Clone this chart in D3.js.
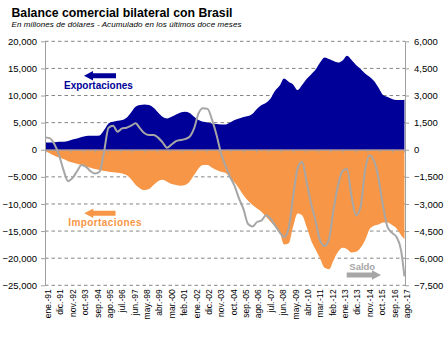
<!DOCTYPE html>
<html>
<head>
<meta charset="utf-8">
<script src="https://cdn.jsdelivr.net/npm/d3@7"></script>
<style>
  body { margin: 0; background: #fff; }
  text { font-family: "Liberation Sans", Arial, sans-serif; }
</style>
</head>
<body>
<div id="container"></div>
<script>
/**
 * CONSTANTES Y DATOS
 * valores mensuales acumulados 12 meses, tomados cada PASO meses desde ene.-91
 * */
const width = 445,
  height = 342,
  margin = { top: 41.3, right: 40, bottom: 56.7, left: 45 };

const PASO = 4,
  ULTIMO_MES = 319; // ago.-17

// etiquetas del eje de categorías (una cada 11 meses)
const etiquetasMes = [
  "ene.-91", "dic.-91", "nov.-92", "oct.-93", "sep.-94", "ago.-95", "jul.-96", "jun.-97",
  "may.-98", "abr.-99", "mar.-00", "feb.-01", "ene.-02", "dic.-02", "nov.-03", "oct.-04",
  "sep.-05", "ago.-06", "jul.-07", "jun.-08", "may.-09", "abr.-10", "mar.-11", "feb.-12",
  "ene.-13", "dic.-13", "nov.-14", "oct.-15", "sep.-16", "ago.-17"
];

const ticksIzq = [20000, 15000, 10000, 5000, 0, -5000, -10000, -15000, -20000, -25000];
const ticksDer = [6000, 4500, 3000, 1500, 0, -1500, -3000, -4500, -6000, -7500];

// millones de US$, eje izquierdo
const exportaciones = [
  1350, 1350, 1400, 1470, 1470, 1590, 1900, 2080, 2330, 2520, 2580, 2580, 2640, 3620, 4850, 5160, 5340, 5470, 5900, 6880,
  7930, 8230, 8360, 8230, 7740, 6880, 6080, 5770, 6080, 6510, 6880, 7000, 6760, 6080, 5470, 5160, 5040, 4850, 4730, 4670,
  4670, 5040, 5470, 5770, 6020, 6210, 6640, 7560, 8230, 8670, 9470, 10880, 11800, 13150, 12540, 12050, 11000, 11930, 13030, 13890,
  14800, 16100, 17030, 16720, 16350, 16100, 16480, 17340, 16540, 15610, 14880, 14070, 13460, 12660, 11430, 10080, 9710, 9340, 9160, 9160, 9220
];

const importaciones = [
  -250, -680, -1100, -1420, -1720, -2100, -2340, -2590, -2830, -3080, -3330, -3570, -3750, -3940, -4060, -4130, -4250, -4370, -4680, -5420,
  -6450, -7130, -7440, -7260, -6510, -5790, -5540, -5900, -6340, -6510, -6640, -6510, -5900, -4680, -3440, -2830, -2830, -3330, -3750, -4060,
  -4300, -5160, -6030, -7130, -8370, -9410, -10210, -10820, -11440, -12370, -13290, -14210, -15130, -17460, -17280, -14210, -11750, -12060, -14210, -16670,
  -18400, -20060, -21780, -22020, -20370, -18830, -18090, -18330, -18950, -18830, -18090, -16670, -14640, -14020, -13780, -13410, -13410, -13900, -14520, -15750, -16490
];

// eje derecho
const saldo = [
  680, 630, 290, -300, -1130, -1740, -1560, -1190, -850, -950, -1190, -1320, -1220, -110, 1220, 1330, 1000, 1180, 1220, 1330,
  1460, 1180, 910, 810, 810, 670, 410, 110, 290, 480, 540, 590, 720, 1180, 2020, 2300, 2260, 1650, 810, -200,
  -900, -1500, -2000, -2700, -3300, -4110, -4240, -4000, -3910, -3630, -3820, -4190, -4560, -4830, -4370, -2610, -1040, -670, -1780, -2980,
  -3930, -5020, -5330, -4930, -3300, -1960, -1170, -1070, -2610, -3630, -3170, -1130, -300, -630, -1590, -3130, -4280, -4600, -4830, -5570, -7000
];

const mesDe = (k) => Math.min(k * PASO, ULTIMO_MES);

const COL_EXP = "#000099",
  COL_IMP = "#F79646",
  COL_SALDO = "#A6A6A6",
  COL_EJE = "#A0A0A0";

/**
 * ESCALAS
 * */
const x = d3.scaleLinear()
  .domain([-0.5, ULTIMO_MES + 0.5])
  .range([margin.left, width - margin.right]);

const yIzq = d3.scaleLinear()
  .domain([-25000, 20000])
  .range([height - margin.bottom, margin.top]);

const yDer = d3.scaleLinear()
  .domain([-7500, 6000])
  .range([height - margin.bottom, margin.top]);

const svg = d3.select("#container")
  .append("svg")
  .attr("width", width)
  .attr("height", height);

// títulos
svg.append("text")
  .attr("x", 11.5).attr("y", 17)
  .attr("font-size", 13).attr("font-weight", "bold")
  .attr("textLength", 221).attr("lengthAdjust", "spacingAndGlyphs")
  .text("Balance comercial bilateral con Brasil");

svg.append("text")
  .attr("x", 11.5).attr("y", 27.3)
  .attr("font-size", 8).attr("font-style", "italic")
  .attr("textLength", 230).attr("lengthAdjust", "spacing")
  .text("En millones de dólares - Acumulado en los últimos doce meses");

// grilla punteada
svg.append("g")
  .selectAll("line")
  .data(ticksIzq.filter(d => d !== 0))
  .join("line")
  .attr("x1", x.range()[0]).attr("x2", x.range()[1])
  .attr("y1", d => yIzq(d)).attr("y2", d => yIzq(d))
  .attr("stroke", "#858585")
  .attr("stroke-dasharray", "3.5,3");

// áreas
const serieExp = exportaciones.map((v, k) => ({ mes: mesDe(k), v }));
const serieImp = importaciones.map((v, k) => ({ mes: mesDe(k), v }));
const serieSaldo = saldo.map((v, k) => ({ mes: mesDe(k), v }));

const area = d3.area()
  .x(d => x(d.mes))
  .y0(yIzq(0))
  .y1(d => yIzq(d.v))
  .curve(d3.curveMonotoneX);

svg.append("path").datum(serieExp).attr("d", area).attr("fill", COL_EXP);
svg.append("path").datum(serieImp).attr("d", area).attr("fill", COL_IMP);

// eje de categorías sobre el cero
const mesesEtiq = etiquetasMes.map((e, i) => ({ mes: i * 11, e }));

svg.append("g")
  .attr("transform", `translate(0,${yIzq(0)})`)
  .call(d3.axisBottom(x).tickValues(mesesEtiq.map(d => d.mes)).tickSize(3).tickSizeOuter(0).tickFormat(""))
  .call(g => g.selectAll("line, path").attr("stroke", COL_EJE));

svg.append("g")
  .selectAll("text")
  .data(mesesEtiq)
  .join("text")
  .attr("transform", d => `translate(${x(d.mes) + 2.5},${height - margin.bottom + 4}) rotate(-90)`)
  .attr("text-anchor", "end")
  .attr("dy", "0.35em")
  .attr("font-size", 8.5)
  .text(d => d.e);

// ejes verticales
const fmt = d3.format(",");

svg.append("g")
  .attr("transform", `translate(${margin.left},0)`)
  .call(d3.axisLeft(yIzq).tickValues(ticksIzq).tickSize(4).tickSizeOuter(0).tickPadding(4).tickFormat(fmt))
  .call(g => g.selectAll("line, path").attr("stroke", COL_EJE))
  .call(g => g.selectAll("text").attr("font-size", 9.5).attr("font-family", "Liberation Sans").attr("fill", "#000"));

svg.append("g")
  .attr("transform", `translate(${width - margin.right},0)`)
  .call(d3.axisRight(yDer).tickValues(ticksDer).tickSize(4).tickSizeOuter(0).tickPadding(5).tickFormat(fmt))
  .call(g => g.selectAll("line, path").attr("stroke", COL_EJE))
  .call(g => g.selectAll("text").attr("font-size", 9.5).attr("font-family", "Liberation Sans").attr("fill", "#000"));

// saldo
const linea = d3.line()
  .x(d => x(d.mes))
  .y(d => yDer(d.v))
  .curve(d3.curveMonotoneX);

svg.append("path")
  .datum(serieSaldo)
  .attr("d", linea)
  .attr("fill", "none")
  .attr("stroke", COL_SALDO)
  .attr("stroke-width", 2);

// leyendas con flecha
function flecha(x0, x1, yc, color) {
  // x0 = punta, x1 = cola
  const s = Math.sign(x1 - x0), cab = 9 * s;
  const p = d3.path();
  p.moveTo(x0, yc);
  p.lineTo(x0 + cab, yc - 4.8);
  p.lineTo(x0 + cab, yc - 2.5);
  p.lineTo(x1, yc - 2.5);
  p.lineTo(x1, yc + 2.5);
  p.lineTo(x0 + cab, yc + 2.5);
  p.lineTo(x0 + cab, yc + 4.8);
  p.closePath();
  svg.append("path").attr("d", p.toString()).attr("fill", color);
}

flecha(84, 116, 75.8, COL_EXP);
svg.append("text")
  .attr("x", 64).attr("y", 89.3)
  .attr("font-size", 10).attr("font-weight", "bold")
  .attr("fill", COL_EXP)
  .text("Exportaciones");

flecha(84.3, 115.5, 213.3, COL_IMP);
svg.append("text")
  .attr("x", 68.3).attr("y", 225.7)
  .attr("font-size", 10).attr("font-weight", "bold")
  .attr("letter-spacing", 0.4)
  .attr("fill", COL_IMP)
  .text("Importaciones");

flecha(381, 346.7, 275, COL_SALDO);
svg.append("text")
  .attr("x", 349.3).attr("y", 270)
  .attr("font-size", 9.5).attr("font-weight", "bold")
  .attr("fill", COL_SALDO)
  .text("Saldo");
</script>
</body>
</html>
